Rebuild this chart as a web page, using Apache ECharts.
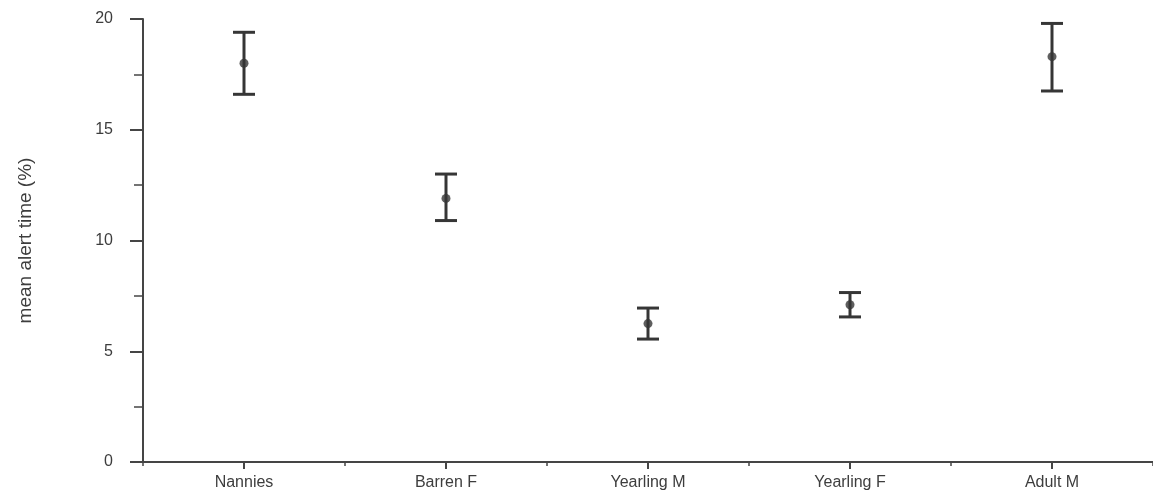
<!DOCTYPE html>
<html>
<head>
<meta charset="utf-8">
<script src="https://cdn.jsdelivr.net/npm/echarts@6/dist/echarts.min.js"></script>
<style>
html,body{margin:0;padding:0;background:#fff;}
#chart{width:1153px;height:504px;}
</style>
</head>
<body>
<div id="chart"></div>
<script>
const categories = ['Nannies', 'Barren F', 'Yearling M', 'Yearling F', 'Adult M'];
const means  = [18.0, 11.9, 6.25, 7.1, 18.3];
const lowers = [16.6, 10.9, 5.55, 6.55, 16.75];
const uppers = [19.4, 13.0, 6.95, 7.65, 19.8];
const yTicks = [0, 5, 10, 15, 20];

const axisColor = '#454545';
const textColor = '#3d3d3d';
const barColor = '#363636';
const font = 'Liberation Sans, Arial, sans-serif';

const errData = categories.map((c, i) => [i, lowers[i], uppers[i]]);

const chart = echarts.init(document.getElementById('chart'));
chart.setOption({
  animation: false,
  backgroundColor: '#fff',
  grid: { left: 143, right: 0, top: 19, bottom: 42, containLabel: false },
  xAxis: [{
    type: 'category',
    data: categories,
    boundaryGap: true,
    axisLine: { show: true, lineStyle: { color: axisColor, width: 2 } },
    axisTick: { show: true, alignWithLabel: true, length: 7, lineStyle: { color: axisColor, width: 2 } },
    axisLabel: { color: textColor, fontSize: 16, fontFamily: font, margin: 13 },
    splitLine: { show: false }
  }, {
    type: 'category',
    data: categories,
    position: 'bottom',
    boundaryGap: true,
    axisLine: { show: false },
    axisTick: { show: true, length: 4, lineStyle: { color: axisColor, width: 1.5 } },
    axisLabel: { show: false },
    splitLine: { show: false }
  }],
  yAxis: {
    type: 'value',
    min: 0, max: 20, interval: 5,
    name: 'mean alert time (%)',
    nameLocation: 'middle',
    nameGap: 108,
    nameTextStyle: { color: textColor, fontSize: 19, fontFamily: font },
    axisLine: { show: true, lineStyle: { color: axisColor, width: 2 } },
    axisTick: { show: true, length: 13, lineStyle: { color: axisColor, width: 2 } },
    minorTick: { show: true, splitNumber: 2, length: 9, lineStyle: { color: axisColor, width: 1.5 } },
    axisLabel: {
      color: textColor, fontSize: 16, fontFamily: font, margin: 30,
      formatter: v => yTicks.includes(v) ? String(v) : ''
    },
    splitLine: { show: false }
  },
  series: [{
    type: 'custom',
    data: errData,
    renderItem: function (params, api) {
      const x = api.value(0);
      const lo = api.coord([x, api.value(1)]);
      const hi = api.coord([x, api.value(2)]);
      const hw = 11;
      return {
        type: 'group',
        children: [
          { type: 'line', shape: { x1: lo[0], y1: lo[1], x2: hi[0], y2: hi[1] }, style: { stroke: barColor, lineWidth: 3 } },
          { type: 'line', shape: { x1: lo[0] - hw, y1: lo[1], x2: lo[0] + hw, y2: lo[1] }, style: { stroke: barColor, lineWidth: 3 } },
          { type: 'line', shape: { x1: hi[0] - hw, y1: hi[1], x2: hi[0] + hw, y2: hi[1] }, style: { stroke: barColor, lineWidth: 3 } }
        ]
      };
    },
    z: 5
  }, {
    type: 'scatter',
    data: means,
    symbol: 'circle',
    symbolSize: 9,
    itemStyle: { color: barColor },
    z: 6
  }]
});
</script>
</body>
</html>
